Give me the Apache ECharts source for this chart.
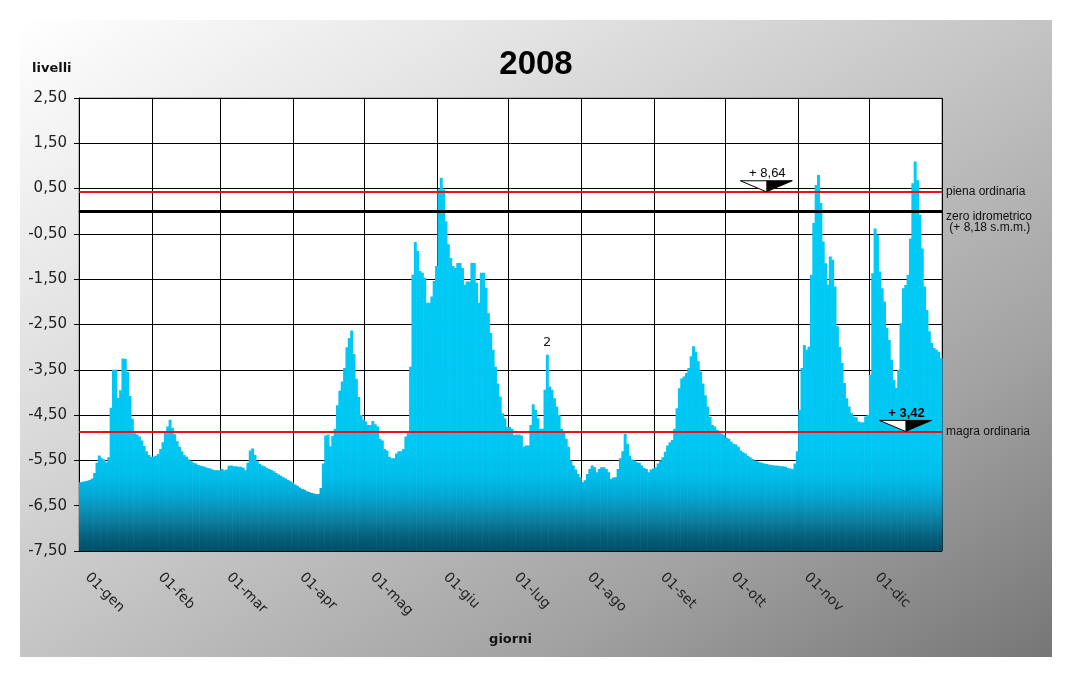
<!DOCTYPE html>
<html>
<head>
<meta charset="utf-8">
<script src="https://cdn.jsdelivr.net/npm/echarts@6/dist/echarts.min.js"></script>
<style>
html, body { margin: 0; padding: 0; background: #fff; }
#chart { width: 1072px; height: 676px; }
</style>
</head>
<body>
<div id="chart"></div>
<script>
// livelli giornalieri 2008 (m sullo zero idrometrico)
var gen = [-5.98, -5.97, -5.96, -5.95, -5.93, -5.90, -5.78, -5.55, -5.39, -5.45, -5.48, -5.54, -5.43, -4.34, -3.50, -3.50,
    -4.12, -3.95, -3.25, -3.26, -3.55, -4.08, -4.58, -4.90, -4.93, -4.97, -5.06, -5.18, -5.30, -5.38, -5.42];
var feb = [-5.42, -5.40, -5.36, -5.25, -5.10, -4.85, -4.75, -4.60, -4.78, -4.92, -5.08, -5.20, -5.30, -5.38, -5.42,
    -5.48, -5.52, -5.55, -5.57, -5.60, -5.62, -5.63, -5.65, -5.67, -5.68, -5.70, -5.72, -5.72, -5.72];
var mar = [-5.69, -5.72, -5.70, -5.62, -5.61, -5.63, -5.63, -5.64, -5.64, -5.66, -5.72, -5.55, -5.28, -5.24, -5.38, -5.52,
    -5.58, -5.61, -5.63, -5.66, -5.69, -5.71, -5.74, -5.78, -5.81, -5.84, -5.87, -5.90, -5.93, -5.96, -5.99];
var apr = [-6.03, -6.06, -6.10, -6.13, -6.15, -6.18, -6.20, -6.22, -6.23, -6.24, -6.24, -6.11, -5.57, -4.95, -4.93,
    -5.19, -4.96, -4.80, -4.28, -3.96, -3.76, -3.46, -3.00, -2.80, -2.63, -3.15, -3.70, -4.10, -4.50, -4.60];
var mag = [-4.64, -4.72, -4.72, -4.63, -4.70, -4.75, -5.02, -5.06, -5.25, -5.28, -5.42, -5.45, -5.45, -5.35, -5.30, -5.30,
    -5.25, -4.97, -4.90, -3.43, -1.40, -0.68, -0.88, -1.32, -1.36, -1.47, -2.02, -2.02, -1.88, -1.54, -1.21];
var giu = [0.48, 0.74, 0.48, -0.22, -0.73, -1.03, -1.21, -1.25, -1.14, -1.14, -1.25, -1.62, -1.55, -1.55, -1.14,
    -1.14, -1.58, -2.02, -1.36, -1.36, -1.69, -2.25, -2.69, -3.06, -3.43, -3.80, -4.09, -4.46, -4.57, -4.76];
var lug = [-4.76, -4.80, -4.94, -4.93, -4.93, -4.95, -5.20, -5.17, -5.17, -4.72, -4.26, -4.39, -4.57, -4.80, -4.80, -3.94,
    -3.17, -3.87, -3.94, -4.13, -4.31, -4.50, -4.80, -4.85, -5.02, -5.20, -5.50, -5.61, -5.70, -5.80, -5.87];
var ago = [-5.98, -5.94, -5.80, -5.69, -5.61, -5.65, -5.76, -5.69, -5.65, -5.65, -5.69, -5.76, -5.91, -5.88, -5.87, -5.69,
    -5.45, -5.30, -4.91, -5.13, -5.39, -5.48, -5.50, -5.54, -5.55, -5.61, -5.67, -5.69, -5.76, -5.70, -5.68];
var set = [-5.65, -5.57, -5.50, -5.43, -5.31, -5.17, -5.10, -5.05, -4.80, -4.35, -3.91, -3.69, -3.65, -3.57, -3.46,
    -3.20, -2.98, -3.10, -3.31, -3.54, -3.80, -4.06, -4.31, -4.54, -4.72, -4.75, -4.83, -4.88, -4.91, -4.94];
var ott = [-5.00, -5.02, -5.09, -5.13, -5.15, -5.20, -5.28, -5.32, -5.35, -5.40, -5.43, -5.47, -5.50, -5.52, -5.54, -5.55,
    -5.57, -5.58, -5.59, -5.60, -5.61, -5.61, -5.62, -5.63, -5.63, -5.64, -5.67, -5.68, -5.69, -5.57, -5.30];
var nov = [-4.38, -3.46, -2.95, -3.06, -2.99, -1.40, -0.26, 0.58, 0.80, 0.18, -0.67, -1.15, -1.62, -1.00, -1.07,
    -1.66, -2.54, -2.99, -3.35, -3.79, -4.13, -4.31, -4.46, -4.53, -4.55, -4.64, -4.66, -4.66, -4.53, -4.49];
var dic = [-3.61, -1.37, -0.38, -0.52, -1.33, -1.70, -1.99, -2.58, -2.84, -3.28, -3.72, -3.90, -3.50, -2.47, -1.70, -1.63,
    -1.40, -0.60, 0.62, 1.10, 0.69, -0.08, -0.82, -1.66, -2.18, -2.65, -2.91, -3.02, -3.06, -3.10, -3.24];

var nomiMesi = ['gen', 'feb', 'mar', 'apr', 'mag', 'giu', 'lug', 'ago', 'set', 'ott', 'nov', 'dic'];
var mesi = [gen, feb, mar, apr, mag, giu, lug, ago, set, ott, nov, dic];

// asse y
var yMin = -7.5;
var yMax = 2.5;
var yPasso = 1;

// livelli di riferimento
var pienaOrdinaria = 0.43;
var zeroIdrometrico = 0;
var magraOrdinaria = -4.86;

// annotazioni
var quotaPiena = { giorno: '18-ott', testo: '+ 8,64' };
var quotaMagra = { giorno: '16-dic', testo: '+ 3,42' };
var nota = { giorno: '17-lug', testo: '2' };

var giorni = [];
var livelli = [];
var primiDelMese = {};
mesi.forEach(function (m, i) {
    primiDelMese[giorni.length] = true;
    m.forEach(function (v, d) {
        giorni.push((d < 9 ? '0' : '') + (d + 1) + '-' + nomiMesi[i]);
        livelli.push(v);
    });
});
var dati = livelli.map(function (v, i) { return [i, v]; });

function inizioMese(index) {
    return primiDelMese[index] === true;
}

var dom = document.getElementById('chart');
var myChart = echarts.init(dom);

var coloriBarre = [
    { offset: 0, color: '#00cdf8' },
    { offset: 0.78, color: '#00c6f2' },
    { offset: 0.836, color: '#00bde9' },
    { offset: 0.873, color: '#02aad8' },
    { offset: 0.902, color: '#0a95bd' },
    { offset: 0.932, color: '#0a7fa0' },
    { offset: 0.968, color: '#05607d' },
    { offset: 1, color: '#004d66' }
];

var kPicco = giorni.indexOf(nota.giorno);

var option = {
    animation: false,
    backgroundColor: '#fff',
    title: {
        text: '2008',
        left: 'center',
        top: 43,
        textStyle: { fontFamily: 'Liberation Sans', fontSize: 33, fontWeight: 'bold', color: '#000' }
    },
    grid: {
        left: 79,
        right: 130,
        top: 98,
        bottom: 125,
        show: true,
        backgroundColor: '#fff',
        borderColor: '#808080',
        borderWidth: 1
    },
    xAxis: {
        type: 'category',
        data: giorni,
        boundaryGap: true,
        name: 'giorni',
        nameLocation: 'middle',
        nameGap: 82,
        nameTextStyle: { fontFamily: 'DejaVu Sans', fontSize: 13, fontWeight: 'bold', color: '#111' },
        axisLine: { lineStyle: { color: '#000', width: 1 } },
        axisTick: { show: true, interval: inizioMese, length: 6, lineStyle: { color: '#000' } },
        axisLabel: {
            interval: inizioMese,
            rotate: -45,
            margin: 17,
            padding: [0, 0, 0, 10],
            fontFamily: 'DejaVu Sans',
            fontSize: 14,
            color: '#222'
        },
        splitLine: { show: true, interval: inizioMese, lineStyle: { color: '#000', width: 1 } }
    },
    yAxis: {
        type: 'value',
        min: yMin,
        max: yMax,
        interval: yPasso,
        axisLine: { show: true, lineStyle: { color: '#000', width: 1 } },
        axisTick: { show: true, length: 5, lineStyle: { color: '#000' } },
        axisLabel: {
            margin: 12,
            fontFamily: 'DejaVu Sans',
            fontSize: 15,
            color: '#222',
            formatter: function (v) { return v.toFixed(2).replace('.', ','); }
        },
        splitLine: { show: true, lineStyle: { color: '#000', width: 1 } }
    },
    series: [{
        type: 'custom',
        data: dati,
        encode: { x: 0, y: 1 },
        renderItem: function (params, api) {
            var cima = api.coord([api.value(0), api.value(1)]);
            var base = api.coord([api.value(0), yMin]);
            var alto = api.coord([api.value(0), yMax]);
            var w = api.size([1, 0])[0];
            return {
                type: 'rect',
                shape: { x: cima[0] - w / 2, y: cima[1], width: w + 0.6, height: base[1] - cima[1] },
                style: {
                    fill: new echarts.graphic.LinearGradient(0, alto[1], 0, base[1], coloriBarre, true)
                }
            };
        },
        markLine: {
            silent: true,
            symbol: 'none',
            label: {
                position: 'end',
                distance: 4,
                fontFamily: 'Liberation Sans',
                fontSize: 12,
                color: '#111'
            },
            data: [
                { yAxis: pienaOrdinaria, lineStyle: { color: '#e8121a', width: 2, type: 'solid' },
                  label: { formatter: 'piena ordinaria' } },
                { yAxis: zeroIdrometrico, lineStyle: { color: '#000', width: 3, type: 'solid' },
                  label: { formatter: '\n\nzero idrometrico\n (+ 8,18 s.m.m.)', lineHeight: 11 } },
                { yAxis: magraOrdinaria, lineStyle: { color: '#e8121a', width: 2, type: 'solid' },
                  label: { formatter: 'magra ordinaria' } }
            ]
        },
        markPoint: {
            silent: true,
            symbol: 'circle',
            symbolSize: 1,
            itemStyle: { color: 'rgba(0,0,0,0)' },
            label: {
                show: true,
                position: 'top',
                distance: 5,
                fontFamily: 'DejaVu Sans',
                fontSize: 13,
                color: '#222'
            },
            data: [{ coord: [nota.giorno, livelli[kPicco]], value: nota.testo }]
        }
    }]
};

myChart.setOption(option, true);

// sfondo, nome asse y e triangoli delle quote
function triangolo(a, testo, peso) {
    var p = myChart.convertToPixel({ xAxisIndex: 0, yAxisIndex: 0 }, [a.giorno, a.livello]);
    return [
        { type: 'polygon', silent: true, z: 50,
          shape: { points: [[p[0] - 26, p[1] - 11], [p[0] + 26, p[1] - 11], [p[0], p[1]]] },
          style: { fill: '#fff', stroke: '#000', lineWidth: 1 } },
        { type: 'polygon', silent: true, z: 51,
          shape: { points: [[p[0], p[1] - 11], [p[0] + 26, p[1] - 11], [p[0], p[1]]] },
          style: { fill: '#000' } },
        { type: 'text', silent: true, z: 52, x: p[0] + 1, y: p[1] - 18,
          style: { text: testo, fill: '#000', font: peso + ' 13px "Liberation Sans"', align: 'center', verticalAlign: 'middle' } }
    ];
}

var grafica = [
    { type: 'rect', silent: true, z: -10,
      shape: { x: 20, y: 20, width: 1032, height: 637 },
      style: {
          fill: new echarts.graphic.LinearGradient(20, 20, 590, 943, [
              { offset: 0, color: '#ffffff' },
              { offset: 0.25, color: '#e4e4e4' },
              { offset: 0.5, color: '#c4c4c4' },
              { offset: 0.75, color: '#a2a2a2' },
              { offset: 1, color: '#767676' }
          ], true)
      } },
    { type: 'text', silent: true, x: 32, y: 69,
      style: { text: 'livelli', fill: '#111', font: 'bold 13px "DejaVu Sans"', verticalAlign: 'middle' } }
];
grafica = grafica
    .concat(triangolo({ giorno: quotaPiena.giorno, livello: pienaOrdinaria }, quotaPiena.testo, 'normal'))
    .concat(triangolo({ giorno: quotaMagra.giorno, livello: magraOrdinaria }, quotaMagra.testo, 'bold'));

myChart.setOption({ graphic: grafica });
</script>
</body>
</html>
